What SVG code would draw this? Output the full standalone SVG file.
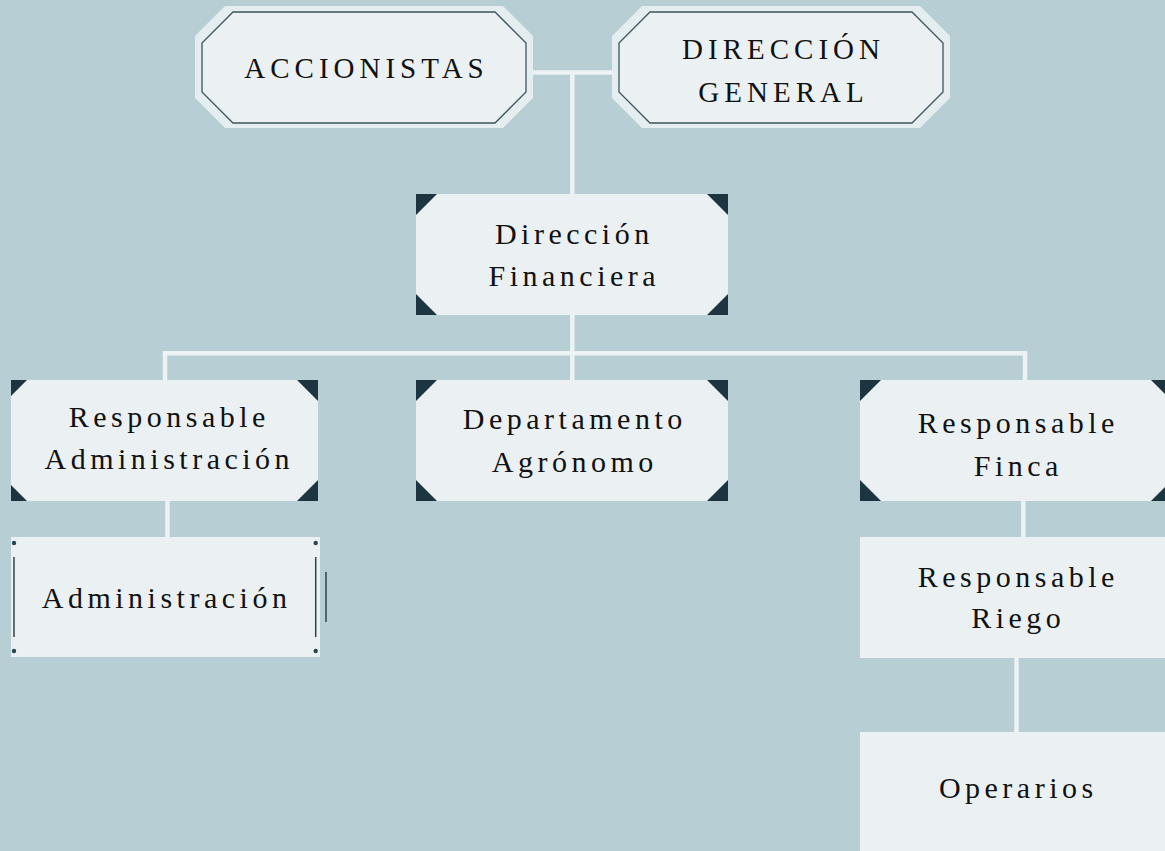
<svg xmlns="http://www.w3.org/2000/svg" width="1165" height="851" viewBox="0 0 1165 851">
<style>
.bg{fill:#b6ced4}
.box{fill:#ebf1f3}
.oct-out{fill:#e4edf0}
.oct-in{fill:#ebf1f3;stroke:#3e545e;stroke-width:1.3}
.tri{fill:#1d3540}
.con{stroke:#edf2f4;stroke-width:4.5;fill:none}
.t{font-family:"Liberation Serif","DejaVu Serif",serif;font-size:30px;letter-spacing:4.5px;fill:#111;text-anchor:middle}
.tc{font-size:29px;letter-spacing:5px}
.deco{stroke:#2c444f;stroke-width:1.5}
.dot{fill:#2c444f}
</style>
<rect class="bg" x="0" y="0" width="1165" height="851"/>
<g id="connectors">
<line class="con" x1="531" y1="72.5" x2="614" y2="72.5"/>
<line class="con" x1="572.3" y1="72.5" x2="572.3" y2="194"/>
<line class="con" x1="572.3" y1="315" x2="572.3" y2="380"/>
<line class="con" x1="162.7" y1="353.2" x2="1027.3" y2="353.2"/>
<line class="con" x1="165" y1="353" x2="165" y2="380"/>
<line class="con" x1="1025" y1="353" x2="1025" y2="380"/>
<line class="con" x1="167.5" y1="500" x2="167.5" y2="537"/>
<line class="con" x1="1023.3" y1="500" x2="1023.3" y2="537"/>
<line class="con" x1="1016.5" y1="658" x2="1016.5" y2="732"/>
</g>
<g id="accionistas">
<polygon class="oct-out" points="225,6 503,6 533,36 533,98 503,128 225,128 195,98 195,36"/>
<polygon class="oct-in" points="233,12 495,12 526,43 526,92 495,123 233,123 202,92 202,43"/>
<text class="t tc" x="366.5" y="78.3">ACCIONISTAS</text>
</g>
<g id="direccion-general">
<polygon class="oct-out" points="642,6 920,6 950,36 950,98 920,128 642,128 612,98 612,36"/>
<polygon class="oct-in" points="650,12 912,12 943,43 943,92 912,123 650,123 619,92 619,43"/>
<text class="t tc" x="783.5" y="59.3">DIRECCIÓN</text>
<text class="t tc" x="783.5" y="101.7">GENERAL</text>
</g>
<g id="direccion-financiera">
<rect class="box" x="416" y="194" width="312" height="121"/>
<polygon class="tri" points="416,194 437,194 416,215"/>
<polygon class="tri" points="728,194 707,194 728,215"/>
<polygon class="tri" points="416,315 437,315 416,294"/>
<polygon class="tri" points="728,315 707,315 728,294"/>
<text class="t" x="574.3" y="244">Dirección</text>
<text class="t" x="574.3" y="286">Financiera</text>
</g>
<g id="responsable-administracion">
<rect class="box" x="11" y="380" width="307" height="121"/>
<polygon class="tri" points="11,380 27,380 11,396"/>
<polygon class="tri" points="318,380 297,380 318,401"/>
<polygon class="tri" points="11,501 27,501 11,485"/>
<polygon class="tri" points="318,501 297,501 318,480"/>
<text class="t" x="169.3" y="427.3">Responsable</text>
<text class="t" x="169.3" y="469">Administración</text>
</g>
<g id="departamento-agronomo">
<rect class="box" x="416" y="380" width="312" height="121"/>
<polygon class="tri" points="416,380 437,380 416,401"/>
<polygon class="tri" points="728,380 707,380 728,401"/>
<polygon class="tri" points="416,501 437,501 416,480"/>
<polygon class="tri" points="728,501 707,501 728,480"/>
<text class="t" x="574.8" y="429">Departamento</text>
<text class="t" x="574.8" y="471.5">Agrónomo</text>
</g>
<g id="responsable-finca">
<rect class="box" x="860" y="380" width="312" height="121"/>
<polygon class="tri" points="860,380 881,380 860,401"/>
<polygon class="tri" points="1172,380 1151,380 1172,401"/>
<polygon class="tri" points="860,501 881,501 860,480"/>
<polygon class="tri" points="1172,501 1151,501 1172,480"/>
<text class="t" x="1018.3" y="433.3">Responsable</text>
<text class="t" x="1018.3" y="475.7">Finca</text>
</g>
<g id="administracion">
<rect class="box" x="11" y="537" width="309" height="120"/>
<circle class="dot" cx="14" cy="543" r="2.2"/>
<circle class="dot" cx="315.7" cy="543" r="2.2"/>
<circle class="dot" cx="14" cy="651" r="2.2"/>
<circle class="dot" cx="315.7" cy="651" r="2.2"/>
<line class="deco" x1="14" y1="557" x2="14" y2="637"/>
<line class="deco" x1="315.7" y1="557" x2="315.7" y2="637"/>
<line class="deco" x1="326" y1="572" x2="326" y2="622"/>
<text class="t" x="166.6" y="608.3">Administración</text>
</g>
<g id="responsable-riego">
<rect class="box" x="860" y="537" width="312" height="121"/>
<text class="t" x="1018.3" y="586.7">Responsable</text>
<text class="t" x="1018.3" y="628.3">Riego</text>
</g>
<g id="operarios">
<rect class="box" x="860" y="732" width="312" height="125"/>
<text class="t" x="1018.3" y="797.7">Operarios</text>
</g>
</svg>
